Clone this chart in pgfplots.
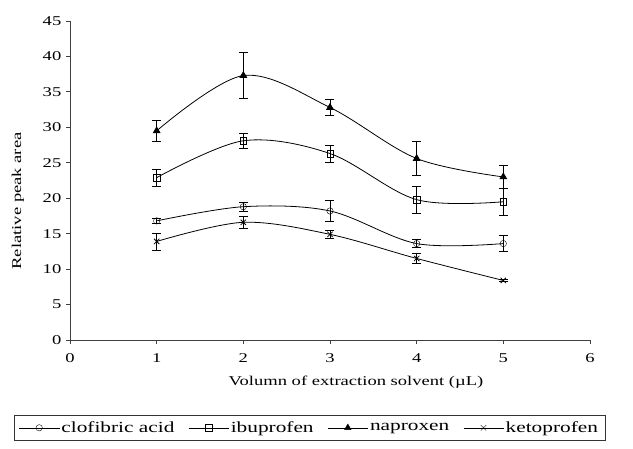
\documentclass[border=0pt]{standalone}
\usepackage{fontspec}
\setmainfont{Liberation Serif}[FakeStretch=1.38]
\usepackage{pgfplots}
\pgfplotsset{compat=1.18}
\begin{document}
\fontsize{13.5pt}{16pt}\selectfont
\begin{tikzpicture}
\begin{axis}[
  scale only axis, width=520bp, height=319bp,
  xmin=0, xmax=6, ymin=0, ymax=45,
  xtick={0,1,2,3,4,5,6}, ytick={0,5,...,45},
  axis lines=left, axis line style={-, thick, black!75},
  tick style={black!75, thick}, tick align=outside, major tick length=4bp,
  /pgf/number format/assume math mode=true,
  tick label style={font=\fontsize{13.5pt}{16pt}\selectfont},
  xticklabel style={yshift=-5bp},
  label style={font=\fontsize{13.5pt}{16pt}\selectfont},
  xlabel={Volumn of extraction solvent (\textmu L)},
  ylabel={Relative peak area},
  every axis x label/.style={at={(rel axis cs:0.55,-0.1317)}, anchor=center},
  every axis y label/.style={at={(rel axis cs:-0.1,0.436)}, anchor=center, rotate=90},
  clip=false,
  legend columns=4,
  legend style={at={(rel axis cs:0.4606,-0.235)}, anchor=north, draw=black!80, thick,
    font=\fontsize{15.5pt}{18pt}\selectfont, inner xsep=5bp, inner ysep=4bp,
    /tikz/every even column/.append style={column sep=12bp}},
  legend image code/.code={\draw[mark repeat=2, mark phase=2, thin, #1] plot coordinates {(0bp,0bp) (20bp,0bp) (40bp,0bp)};},
  every axis plot/.append style={black, thick, smooth, tension=0.55},
  error bars/y dir=both, error bars/y explicit,
  error bars/error bar style={thick, black},
  error bars/error mark options={rotate=90, mark size=4.5bp, thick, black},
]
\addplot[mark=o, mark options={solid, fill=white, thin, scale=1.6}] coordinates {
 (1,16.8) +- (0,0.4)
 (2,18.8) +- (0,0.6)
 (3,18.2) +- (0,1.5)
 (4,13.6) +- (0,0.6)
 (5,13.6) +- (0,1.1)
};
\addlegendentry{clofibric acid}
\addplot[mark=square, mark options={solid, fill=white, thin, scale=1.6}] coordinates {
 (1,22.9) +- (0,1.2)
 (2,28.1) +- (0,1.1)
 (3,26.3) +- (0,1.2)
 (4,19.8) +- (0,1.9)
 (5,19.5) +- (0,1.9)
};
\addlegendentry{ibuprofen}
\addplot[mark=triangle*, mark options={solid, fill=black, scale=1.9}] coordinates {
 (1,29.5) +- (0,1.5)
 (2,37.3) +- (0,3.2)
 (3,32.8) +- (0,1.1)
 (4,25.6) +- (0,2.4)
 (5,23.0) +- (0,1.6)
};
\addlegendentry{naproxen}
\addplot[mark=x, mark options={solid, scale=1.9}] coordinates {
 (1,13.9) +- (0,1.2)
 (2,16.6) +- (0,0.9)
 (3,14.9) +- (0,0.6)
 (4,11.5) +- (0,0.7)
 (5,8.4) +- (0,0.2)
};
\addlegendentry{ketoprofen}
\path (rel axis cs:-0.1346,1.0658) rectangle (rel axis cs:1.0827,-0.3417);
\end{axis}
\end{tikzpicture}
\end{document}
